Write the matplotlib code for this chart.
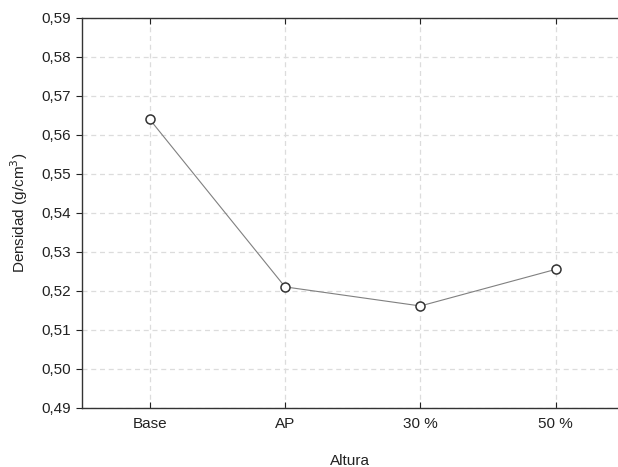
import matplotlib
matplotlib.use("Agg")
import matplotlib.pyplot as plt
from matplotlib.ticker import FuncFormatter, MultipleLocator

categories = ["Base", "AP", "30 %", "50 %"]
density = [0.5640, 0.5210, 0.5161, 0.5255]

plt.rcParams['font.family'] = ['Liberation Sans', 'DejaVu Sans']

fig = plt.figure(figsize=(6.18, 4.67), dpi=100)
ax = fig.add_axes([0.1327, 0.127, 0.8673, 0.8345])

x = list(range(len(categories)))
ax.plot(x, density, color='#808080', lw=0.8, zorder=2)
ax.plot(x, density, linestyle='none', marker='o', markersize=6.5,
        markerfacecolor='white', markeredgecolor='#333333', markeredgewidth=1.1, zorder=3)

ax.set_xlim(-0.5, 3.46)
ax.set_ylim(0.49, 0.59)
ax.yaxis.set_major_locator(MultipleLocator(0.01))
ax.yaxis.set_major_formatter(FuncFormatter(lambda v, p: f"{v:.2f}".replace('.', ',')))
ax.set_xticks(x)
ax.set_xticklabels(categories)

ax.grid(True, color='#dcdcdc', linestyle=(0, (4, 3)), lw=0.9)
ax.set_axisbelow(True)

ax.spines['right'].set_visible(False)
for s in ['left', 'top', 'bottom']:
    ax.spines[s].set_color('#333333')
    ax.spines[s].set_linewidth(1.0)

ax.tick_params(axis='x', direction='in', top=True, bottom=True, length=4, labelsize=11, colors='#222222', pad=7)
ax.tick_params(axis='y', direction='out', length=4, labelsize=11, colors='#222222', pad=4)

ax.set_xlabel("Altura", fontsize=11, color='#222222', labelpad=16)
ax.set_ylabel("Densidad (g/cm$^3$)", fontsize=11, color='#222222', labelpad=8)

fig.savefig("out.png", dpi=100)
